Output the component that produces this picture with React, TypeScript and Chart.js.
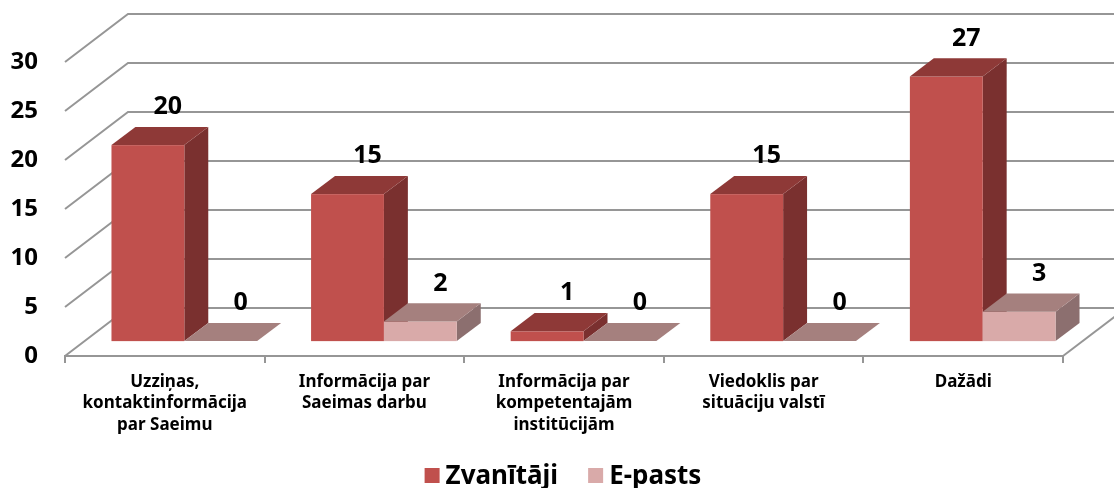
import React, { useEffect, useRef } from "react";
import { Chart, registerables } from "chart.js";

Chart.register(...registerables);

const CATEGORIES: string[][] = [
  ["Uzziņas,", "kontaktinformācija", "par Saeimu"],
  ["Informācija par", "Saeimas darbu"],
  ["Informācija par", "kompetentajām", "institūcijām"],
  ["Viedoklis par", "situāciju valstī"],
  ["Dažādi"],
];
const SERIES_NAMES = ["Zvanītāji", "E-pasts"];
const ZVANITAJI = [20, 15, 1, 15, 27];
const EPASTS = [0, 2, 0, 0, 3];
const Y_MIN = 0;
const Y_MAX = 30;
const Y_STEP = 5;

const FRONT = ["#C0504D", "#D9AAA9"];
const TOP = ["#8E3937", "#A5807E"];
const SIDE = ["#7A302F", "#8C6F6F"];
const GRID = "#969696";
const FONT = '"Noto Sans", "DejaVu Sans", sans-serif';

// 3D depth vector of the plot box and the depth slice occupied by the bars
const DX = 63;
const DY = -48;
const F0 = 0.31;
const F1 = 0.69;

const threeD = {
  id: "threeD",
  beforeDatasetsDraw(chart: any) {
    const { ctx, chartArea: a, scales } = chart;
    const y = scales.y;
    ctx.save();
    ctx.strokeStyle = GRID;
    ctx.lineWidth = 2;
    for (const t of y.ticks) {
      const py = y.getPixelForValue(t.value);
      ctx.beginPath();
      ctx.moveTo(a.left, py);
      ctx.lineTo(a.left + DX, py + DY);
      ctx.lineTo(a.right + DX, py + DY);
      ctx.stroke();
    }
    const p0 = y.getPixelForValue(0);
    ctx.beginPath();
    ctx.moveTo(a.right, p0);
    ctx.lineTo(a.right + DX, p0 + DY);
    ctx.stroke();
    ctx.restore();
  },
  afterDatasetsDraw(chart: any) {
    const { ctx } = chart;
    const n = chart.data.labels.length;
    const nd = chart.data.datasets.length;
    const ddx = (F1 - F0) * DX;
    const ddy = (F1 - F0) * DY;
    ctx.save();
    for (let j = 0; j < n; j++) {
      for (let i = 0; i < nd; i++) {
        const el: any = chart.getDatasetMeta(i).data[j];
        const w = el.width;
        const x0 = el.x - w / 2 + F0 * DX;
        const x1 = el.x + w / 2 + F0 * DX;
        const yt = el.y + F0 * DY;
        const yb = el.base + F0 * DY;
        // side
        ctx.fillStyle = SIDE[i];
        ctx.beginPath();
        ctx.moveTo(x1, yt);
        ctx.lineTo(x1 + ddx, yt + ddy);
        ctx.lineTo(x1 + ddx, yb + ddy);
        ctx.lineTo(x1, yb);
        ctx.closePath();
        ctx.fill();
        // front
        if (yb - yt > 0) {
          ctx.fillStyle = FRONT[i];
          ctx.fillRect(x0, yt, x1 - x0, yb - yt);
        }
        // top
        ctx.fillStyle = TOP[i];
        ctx.beginPath();
        ctx.moveTo(x0, yt);
        ctx.lineTo(x1, yt);
        ctx.lineTo(x1 + ddx, yt + ddy);
        ctx.lineTo(x0 + ddx, yt + ddy);
        ctx.closePath();
        ctx.fill();
      }
    }
    // value labels
    ctx.fillStyle = "#000";
    ctx.font = `bold 25px ${FONT}`;
    ctx.textAlign = "center";
    ctx.textBaseline = "middle";
    for (let i = 0; i < nd; i++) {
      const meta = chart.getDatasetMeta(i);
      meta.data.forEach((el: any, j: number) => {
        const v = chart.data.datasets[i].data[j];
        const cx = el.x + 0.5 * DX + 8;
        const cy = el.y + 0.5 * DY - 29;
        ctx.fillText(String(v), cx, cy);
      });
    }
    ctx.restore();
  },
  afterDraw(chart: any) {
    const { ctx, width } = chart;
    ctx.save();
    ctx.font = `bold 26px ${FONT}`;
    ctx.textBaseline = "alphabetic";
    ctx.textAlign = "left";
    const box = 15;
    const gap = 6;
    const itemGap = 30;
    const widths = SERIES_NAMES.map((s) => ctx.measureText(s).width);
    const total =
      widths.reduce((s, w) => s + box + gap + w, 0) + itemGap * (SERIES_NAMES.length - 1);
    let x = width / 2 + 6 - total / 2;
    const baseY = 483;
    SERIES_NAMES.forEach((name, i) => {
      ctx.fillStyle = FRONT[i];
      ctx.fillRect(x, baseY - box, box, box);
      ctx.fillStyle = "#000";
      ctx.fillText(name, x + box + gap, baseY + 1);
      x += box + gap + widths[i] + itemGap;
    });
    ctx.restore();
  },
};

export default function App() {
  const ref = useRef<HTMLCanvasElement>(null);
  useEffect(() => {
    const canvas = ref.current;
    if (!canvas) return;
    const chart = new Chart(canvas, {
      type: "bar",
      data: {
        labels: CATEGORIES,
        datasets: [
          {
            label: SERIES_NAMES[0],
            data: ZVANITAJI,
            backgroundColor: "rgba(0,0,0,0)",
          },
          {
            label: SERIES_NAMES[1],
            data: EPASTS,
            backgroundColor: "rgba(0,0,0,0)",
          },
        ],
      },
      options: {
        responsive: false,
        animation: false,
        devicePixelRatio: 1,
        datasets: { bar: { categoryPercentage: 0.73, barPercentage: 1 } },
        layout: { padding: { top: 62, right: 51, left: 0, bottom: 0 } },
        plugins: {
          legend: { display: false },
          tooltip: { enabled: false },
        },
        scales: {
          x: {
            grid: {
              display: true,
              drawOnChartArea: false,
              drawTicks: true,
              tickLength: 7,
              color: GRID,
              lineWidth: 2,
              offset: true,
            },
            border: { display: true, color: GRID, width: 2 },
            ticks: {
              color: "#000",
              font: { family: FONT, size: 17, weight: "bold", lineHeight: 1.27 },
              maxRotation: 0,
              autoSkip: false,
              padding: 8,
            },
            afterFit: (s: any) => {
              s.height = 132;
            },
          },
          y: {
            min: Y_MIN,
            max: Y_MAX,
            grid: { display: false, drawTicks: false },
            border: { display: false },
            ticks: {
              stepSize: Y_STEP,
              color: "#000",
              font: { family: FONT, size: 24, weight: "bold" },
              padding: 27,
            },
            afterFit: (s: any) => {
              s.width = 65;
            },
          },
        },
      },
      plugins: [threeD],
    });
    return () => chart.destroy();
  }, []);
  return (
    <div style={{ position: "absolute", left: 0, top: 0, width: 1114, height: 488, background: "#fff" }}>
      <canvas ref={ref} width={1114} height={488} style={{ display: "block" }} />
    </div>
  );
}
